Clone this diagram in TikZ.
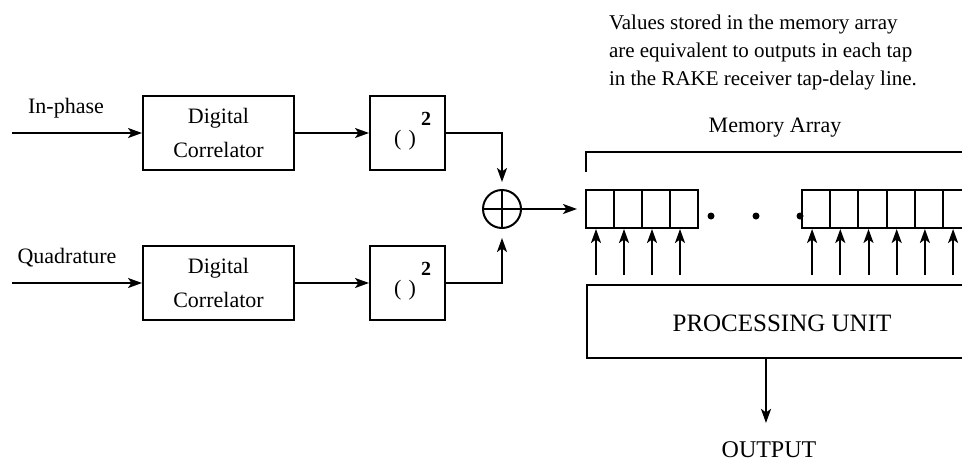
\documentclass[tikz,border=0pt]{standalone}
\usepackage{fontspec}
\setmainfont{Liberation Serif}
\usetikzlibrary{arrows.meta}
\begin{document}
\begin{tikzpicture}[x=1pt,y=-1pt,
  line width=2pt,
  arr/.style={-{Stealth[length=14pt,width=10pt,inset=3.5pt]}},
  blk/.style={draw, inner sep=0pt, minimum height=74pt},
  cell/.style={draw, minimum height=38pt, inner sep=0pt},
  lbl/.style={font=\fontsize{22}{34}\selectfont, inner sep=0pt},
  expo/.style={inner sep=0pt, font=\fontsize{20}{22}\selectfont\bfseries},
  dot/.style={circle, fill, inner sep=0pt, minimum size=7pt},
 ]
\useasboundingbox (0,0) rectangle (962,464);
\clip (0,0) rectangle (962,464);

% note
\node[anchor=north west, align=left, inner sep=0pt, font=\fontsize{21}{28}\selectfont] (note) at (608,14)
  {Values stored in the memory array\\are equivalent to outputs in each tap\\in the RAKE receiver tap-delay\ line.};

% input labels
\node[lbl] (lI) at (66,108) {In-phase};
\node[lbl] (lQ) at (67,258) {Quadrature};
\coordinate (inI) at (12,133);
\coordinate (inQ) at (12,283);

% blocks
\node[blk, lbl, minimum width=151pt, align=center] (dc1) at (218.5,133) {Digital\\Correlator};
\node[blk, lbl, minimum width=151pt, align=center] (dc2) at (218.5,283) {Digital\\Correlator};
\node[blk, minimum width=75pt] (sq1) at (407.5,133) {};
\node[blk, minimum width=75pt] (sq2) at (407.5,283) {};
\node[lbl] (sq1p) at (405,140) {(\,\,)};
\node[lbl] (sq2p) at (405,290) {(\,\,)};
\node[expo] (sq1e) at (426,119) {2};
\node[expo] (sq2e) at (426,269) {2};

% summer
\node[draw, circle, minimum size=38pt, inner sep=0pt] (sum) at (502,209) {};
\draw (sum.north) -- (sum.south) (sum.west) -- (sum.east);

% memory cells
\foreach \i in {0,...,3} \node[cell, minimum width=28pt] (a\i) at (600+28*\i,209) {};
\foreach \i in {0,...,6} \node[cell, minimum width=28.2pt] (b\i) at (816.1+28.2*\i,209) {};
\node[dot] (d1) at (711,216) {};
\node[dot] (d2) at (756,216) {};
\node[dot] (d3) at (800,216) {};

% memory array bracket
\node[lbl] (mlab) at (775,128) {Memory Array};
\coordinate (mb1) at (586,172);
\coordinate (mb2) at (586,152);
\coordinate (mb3) at (990,152);
\draw (mb1) -- (mb2) -- (mb3);

% processing unit
\node[draw, minimum width=404pt, minimum height=73pt, anchor=north west, inner sep=0pt] (pu) at (586,284) {};
\node[inner sep=0pt, font=\fontsize{25}{30}\selectfont] (put) at (782,323) {PROCESSING UNIT};
\node[inner sep=0pt, font=\fontsize{24}{30}\selectfont] (out) at (769,450) {OUTPUT};

% connectors
\draw[arr] (inI) -- (dc1.west);
\draw[arr] (inQ) -- (dc2.west);
\draw[arr] (dc1.east) -- (sq1.west);
\draw[arr] (dc2.east) -- (sq2.west);
\draw[arr, shorten >=7pt] (sq1.east) -| (sum.north);
\draw[arr, shorten >=9pt] (sq2.east) -| (sum.south);
\draw[arr, shorten >=8pt] (sum.east) -- (sum.east -| a0.west);

\foreach \i in {0,...,3} {
  \coordinate (ta\i) at ([xshift=-4pt]a\i.south);
  \draw[arr, shorten <=9pt] (ta\i |- pu.north) -- (ta\i);
}
\foreach \i in {0,...,5} {
  \coordinate (tb\i) at ([xshift=-4pt]b\i.south);
  \draw[arr, shorten <=9pt] (tb\i |- pu.north) -- (tb\i);
}
\coordinate (ot) at ([xshift=-16pt]pu.south -| put.south);
\draw[arr, shorten >=18pt] (ot) -- (ot |- out.north);
\end{tikzpicture}
\end{document}
